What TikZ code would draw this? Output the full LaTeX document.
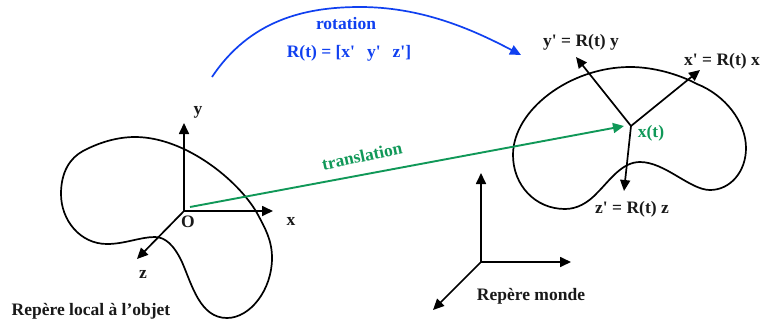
\documentclass[tikz,border=0pt]{standalone}
\usepackage{fontspec}
\setmainfont{Liberation Serif}[Ligatures=TeXOff]
\usetikzlibrary{arrows.meta,positioning}
\definecolor{rotblue}{HTML}{1040F0}
\definecolor{transgreen}{HTML}{109858}

\begin{document}
\begin{tikzpicture}[
        x=1pt,
        y=-1pt,
        font=\fontsize{17.5}{19}\selectfont\bfseries,
        blob/.style={black, line width=1.7pt, line join=round},
        axis/.style={-{Triangle[length=11pt,width=10pt]}, black, line width=1.7pt},
        rot/.style={-{Triangle[length=11pt,width=10pt]}, rotblue, line width=1.7pt},
        trans/.style={-{Triangle[length=11pt,width=10pt]}, transgreen, line width=1.9pt},
        lab/.style={black!90, inner sep=0pt}
    ]
        \useasboundingbox (0,0) rectangle (760,327);

        % Object outlines
        \draw[blob] (83,151) .. controls (100,142) and (118,137) .. (135,137)
            .. controls (185,137) and (238,180) .. (257,213)
            .. controls (265,228) and (272,240) .. (272,258)
            .. controls (272,290) and (250,318) .. (227,318)
            .. controls (200,318) and (192,285) .. (182,262)
            .. controls (174,245) and (165,237) .. (155,237)
            .. controls (140,237) and (125,244) .. (107,244)
            .. controls (80,244) and (61,220) .. (61,194)
            .. controls (61,172) and (70,158) .. cycle;
        \draw[blob] (630,67) .. controls (655,67) and (680,75) .. (697,84)
            .. controls (725,95) and (746,122) .. (746,148)
            .. controls (746,172) and (730,190) .. (710,190)
            .. controls (690,190) and (665,162) .. (640,162)
            .. controls (622,162) and (610,180) .. (598,192)
            .. controls (588,203) and (577,209) .. (565,209)
            .. controls (535,209) and (513,185) .. (513,155)
            .. controls (513,110) and (570,67) .. cycle;

        % Frames
        \coordinate (O) at (184,211);
        \coordinate (Oy) at (184,123);
        \coordinate (Ox) at (273,211);
        \coordinate (Oz) at (137,259);
        \coordinate (W) at (481,262);
        \coordinate (Wy) at (481,173);
        \coordinate (Wx) at (571,262);
        \coordinate (Wz) at (433,310);
        \coordinate (X) at (631,126);
        \coordinate (Xy) at (576,57);
        \coordinate (Xx) at (700,70);
        \coordinate (Xz) at (624,191);
        \foreach \from/\to in {O/Oy,O/Ox,O/Oz,W/Wy,W/Wx,W/Wz,X/Xy,X/Xx,X/Xz} {
            \draw[axis] (\from) -- (\to);
        }

        % Rotation and translation
        \coordinate (rotstart) at (212,77);
        \coordinate (rotend) at (521,55);
        \coordinate (transstart) at (190,207);
        \coordinate (transend) at (624,126);
        \draw[rot] (rotstart) .. controls (250,20) and (305,7) .. (360,7) .. controls (420,7) and (470,28) .. (rotend);
        \draw[trans] (transstart) -- (transend);

        % Labels
        \node[lab] (ylab) at (198,112) {y};
        \node[lab] (xlab) at (291,221) {x};
        \node[lab] (zlab) at (143,274) {z};
        \node[lab] (olab) at (188,222) {O};
        \node[lab] (local) at (91,311) {Repère local à l’objet};
        \node[lab] (monde) at (531,296) {Repère monde};
        \node[lab] (yprime) at (581,42) {y' = R(t) y};
        \node[lab] (xprime) at (722,61) {x' = R(t) x};
        \node[lab] (zprime) at (632,209) {z' = R(t) z};
        \node[lab, text=rotblue] (rotlab) at (346,24) {rotation};
        \node[lab, text=rotblue] (rlab) at (349,53) {R(t) = [x'\hspace{12pt}y'\hspace{12pt}z']};
        \node[lab, text=transgreen, rotate=12] (translab) at (362,156) {translation};
        \node[lab, text=transgreen] (xtlab) at (651,133) {x(t)};
    \end{tikzpicture}
\end{document}
